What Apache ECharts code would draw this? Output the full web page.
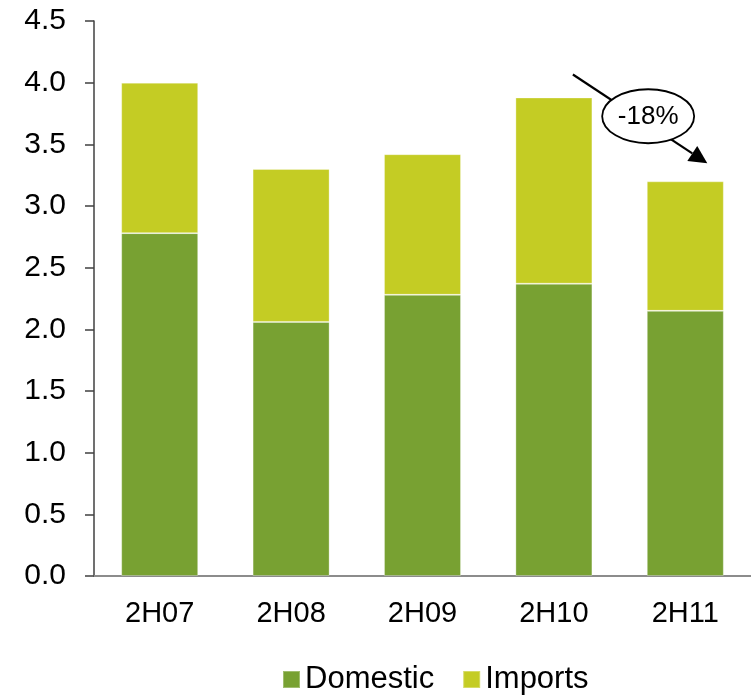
<!DOCTYPE html>
<html>
<head>
<meta charset="utf-8">
<script src="https://cdn.jsdelivr.net/npm/echarts@6/dist/echarts.min.js"></script>
<style>
  html, body { margin: 0; padding: 0; background: #fff; }
  #chart { width: 751px; height: 695px; }
</style>
</head>
<body>
<div id="chart"></div>
<script>
// Half-year volumes, split into domestic and imported supply
const categories = ['2H07', '2H08', '2H09', '2H10', '2H11'];
const domestic = [2.78, 2.06, 2.28, 2.37, 2.15];
const imports = [1.22, 1.24, 1.14, 1.51, 1.05];
const seriesNames = ['Domestic', 'Imports'];

const FONT = "'Liberation Sans', Arial, sans-serif";
const GREEN = '#78a132';
const LIME = '#c4cc24';

const totals = domestic.map((d, i) => +(d + imports[i]).toFixed(2));

const chart = echarts.init(document.getElementById('chart'), null, { renderer: 'canvas' });

chart.setOption({
  animation: false,
  backgroundColor: '#ffffff',
  textStyle: { fontFamily: FONT },
  grid: { left: 94, right: 0, top: 21, bottom: 119, containLabel: false },
  legend: {
    left: 277,
    top: 659,
    itemWidth: 17,
    itemHeight: 17,
    itemGap: 28,
    icon: 'rect',
    textStyle: { fontFamily: FONT, fontSize: 31, color: '#000' },
    data: seriesNames
  },
  xAxis: {
    type: 'category',
    data: categories,
    axisLine: { show: true, lineStyle: { color: '#8c8c8c', width: 2 } },
    axisTick: { show: false },
    axisLabel: { fontFamily: FONT, fontSize: 29, color: '#000', margin: 23 }
  },
  yAxis: {
    type: 'value',
    min: 0,
    max: 4.5,
    interval: 0.5,
    splitLine: { show: false },
    axisLine: { show: true, lineStyle: { color: '#404040', width: 1.5 } },
    axisTick: { show: true, length: 9, lineStyle: { color: '#404040', width: 1.5 } },
    axisLabel: {
      fontFamily: FONT, fontSize: 30, color: '#000', margin: 28,
      formatter: v => v.toFixed(1)
    }
  },
  series: [
    {
      name: seriesNames[0],
      type: 'bar',
      stack: 'total',
      barWidth: '58.6%',
      data: domestic,
      itemStyle: { color: GREEN, borderColor: 'rgba(255,255,255,0.3)', borderWidth: 1 }
    },
    {
      name: seriesNames[1],
      type: 'bar',
      stack: 'total',
      barWidth: '58.6%',
      data: imports,
      itemStyle: { color: LIME, borderColor: 'rgba(255,255,255,0.3)', borderWidth: 1 }
    }
  ]
});

// Change callout between the last two half-years
function drawCallout() {
  const n = categories.length;
  const prev = chart.convertToPixel({ seriesIndex: 0 }, [categories[n - 2], totals[n - 2]]);
  const last = chart.convertToPixel({ seriesIndex: 0 }, [categories[n - 1], totals[n - 1]]);
  const change = Math.round((totals[n - 1] / totals[n - 2] - 1) * 100);

  const start = [prev[0] + 19, prev[1] - 23];
  const tip = [last[0] + 22, last[1] - 18];
  const dx = tip[0] - start[0], dy = tip[1] - start[1];
  const len = Math.sqrt(dx * dx + dy * dy);
  const ux = dx / len, uy = dy / len;
  const headLen = 18, headHalf = 9;
  const base = [tip[0] - ux * headLen, tip[1] - uy * headLen];
  const px = -uy, py = ux;

  const cx = start[0] + dx * 0.56;
  const cy = start[1] + dy * 0.56 - 8;

  chart.setOption({
    graphic: [
      {
        type: 'line', z: 100,
        shape: { x1: start[0], y1: start[1], x2: base[0], y2: base[1] },
        style: { stroke: '#000', lineWidth: 2.2 }
      },
      {
        type: 'polygon', z: 100,
        shape: {
          points: [
            tip,
            [base[0] + px * headHalf, base[1] + py * headHalf],
            [base[0] - px * headHalf, base[1] - py * headHalf]
          ]
        },
        style: { fill: '#000' }
      },
      {
        type: 'ellipse', z: 101,
        shape: { cx: cx, cy: cy, rx: 46, ry: 27 },
        style: { fill: '#fff', stroke: '#000', lineWidth: 1.8 }
      },
      {
        type: 'text', z: 102,
        x: cx, y: cy + 1,
        style: {
          text: change + '%',
          font: '26px ' + FONT,
          fill: '#000',
          align: 'center',
          verticalAlign: 'middle'
        }
      }
    ]
  });
}
drawCallout();
</script>
</body>
</html>
